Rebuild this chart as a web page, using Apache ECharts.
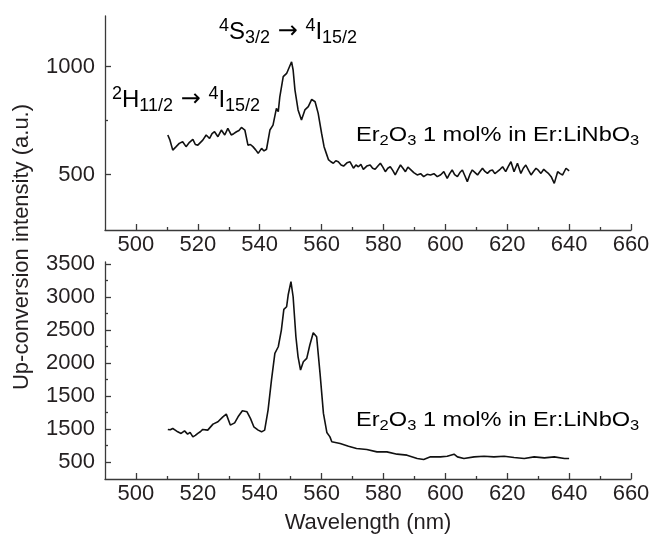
<!DOCTYPE html>
<html>
<head>
<meta charset="utf-8">
<script src="https://cdn.jsdelivr.net/npm/echarts@6/dist/echarts.min.js"></script>
<style>html,body{margin:0;padding:0;background:#fff}#c{width:660px;height:540px}</style>
</head>
<body>
<div id="c"></div>
<script>
// ---- data ----
const xTickValues = [500, 520, 540, 560, 580, 600, 620, 640, 660];
const xMinorTickValues = [510, 530, 550, 570, 590, 610, 630, 650];
const topYTickValues = [500, 1000];
const topYTickLabels = ["500", "1000"];
const topYMinorTickValues = [750];
const botYTickValues = [500, 1000, 1500, 2000, 2500, 3000, 3500];
const botYTickLabels = ["500", "1500", "1500", "2000", "2500", "3000", "3500"];
const botYMinorTickValues = [750, 1250, 1750, 2250, 2750, 3250];

const topX = [510.3,511.0,511.9,513.0,514.0,515.1,516.2,517.3,518.4,519.2,520.0,521.6,522.7,523.8,524.6,525.4,526.5,527.6,528.7,529.7,530.8,531.6,532.5,533.3,534.1,535.2,536.2,537.0,537.8,538.7,539.5,540.6,541.4,542.2,543.3,544.3,545.4,546.0,546.5,547.6,548.7,549.2,550.3,550.8,551.4,552.4,553.5,554.6,555.7,556.8,557.9,558.9,560.0,560.8,561.5,562.2,563.0,563.8,564.6,565.4,566.3,567.1,568.2,569.2,570.3,571.1,571.9,572.7,573.5,574.6,575.7,576.5,577.3,578.2,579.0,579.8,580.6,581.4,582.2,583.0,583.8,584.7,585.5,586.3,587.1,587.9,588.7,589.8,590.9,592.0,593.0,594.1,595.2,596.3,597.4,598.5,599.5,600.6,601.4,602.2,603.0,603.9,604.7,605.5,606.3,607.1,607.9,608.7,609.6,610.4,611.2,612.0,612.8,613.6,614.4,615.2,616.0,616.8,617.7,618.5,619.5,620.4,621.2,622.2,623.3,624.4,625.2,626.0,626.9,627.7,628.5,629.3,630.1,630.9,631.8,632.6,633.4,634.2,635.2,636.3,637.1,637.9,639.0,640.0];
const topY = [684,660,614,630,645,653,630,650,664,640,637,660,684,668,690,699,676,707,684,715,684,690,699,705,719,707,637,640,630,615,599,622,610,618,707,730,807,792,861,954,969,962,1023,985,892,800,753,800,815,849,838,784,692,630,600,570,560,553,565,560,545,540,555,560,530,545,537,548,525,540,545,530,525,540,553,535,514,530,537,520,499,525,545,530,514,535,525,510,499,505,491,502,499,505,491,500,514,483,505,522,500,491,510,522,495,468,500,522,510,499,515,530,515,506,518,522,505,514,525,537,514,540,560,514,553,506,530,545,520,499,515,530,520,506,525,514,505,491,460,514,505,499,530,518];

const botX = [510.3,511.1,511.9,512.7,513.5,514.6,515.7,516.7,517.5,518.4,519.2,520.0,520.8,521.6,523.2,524.9,526.5,528.1,529.2,530.5,531.9,533.0,534.4,535.9,537.0,538.1,539.5,540.6,541.6,542.7,543.8,544.9,546.0,546.5,547.0,547.8,548.7,549.2,550.1,550.8,551.7,552.4,553.2,554.1,555.2,556.2,557.3,558.4,559.5,560.6,561.7,562.7,563.3,566.0,568.7,571.3,574.6,577.9,581.1,584.4,587.6,590.9,593.0,595.2,598.4,600.6,602.8,603.9,606.0,609.3,612.5,615.7,619.0,622.2,625.5,628.7,632.0,635.2,638.5,640.0];
const botY = [995,990,1010,985,959,935,974,924,950,883,905,935,960,995,985,1076,1111,1186,1227,1061,1095,1186,1277,1262,1162,1035,985,959,985,1288,1742,2147,2247,2270,2500,2813,2853,3030,3232,3004,2398,2095,1894,2020,2071,2273,2459,2398,1844,1238,950,883,808,783,742,707,692,656,656,621,606,556,541,580,580,590,621,580,556,580,590,580,590,570,556,580,565,580,556,556];

const xAxisTitle = "Wavelength (nm)";
const yAxisTitle = "Up-conversion intensity (a.u.)";

// ---- styling ----
const FONT = '"Liberation Sans", Arial, Helvetica, sans-serif';
const ARROWFONT = '"DejaVu Sans", sans-serif';
const TXT = '#231f20';
const AX = '#3a3a3a';

function zip(xs, ys) { return xs.map((x, i) => [x, ys[i]]); }

function mainX(grid, extra) {
  return Object.assign({
    gridIndex: grid, type: 'value', position: 'bottom', min: 490, max: 660,
    axisLine: { show: true, lineStyle: { color: AX, width: 1.3 } },
    axisTick: { show: true, inside: true, length: 6, customValues: xTickValues, lineStyle: { color: AX, width: 1.3 } },
    axisLabel: { customValues: xTickValues, fontSize: 22, fontFamily: FONT, color: TXT, margin: 4 },
    splitLine: { show: false }
  }, extra || {});
}
function minorX(grid) {
  return {
    gridIndex: grid, type: 'value', position: 'bottom', min: 490, max: 660,
    axisLine: { show: false },
    axisTick: { show: true, inside: true, length: 3, customValues: xMinorTickValues, lineStyle: { color: AX, width: 1.3 } },
    axisLabel: { show: false }, splitLine: { show: false }
  };
}
function mainY(grid, min, max, vals, labels) {
  return {
    gridIndex: grid, type: 'value', position: 'left', min: min, max: max,
    axisLine: { show: true, lineStyle: { color: AX, width: 1.3 } },
    axisTick: { show: true, inside: true, length: 6, customValues: vals, lineStyle: { color: AX, width: 1.3 } },
    axisLabel: {
      customValues: vals, fontSize: 22, fontFamily: FONT, color: TXT, margin: 10,
      formatter: function (v) { const i = vals.indexOf(v); return i >= 0 ? labels[i] : ''; }
    },
    splitLine: { show: false }
  };
}
function minorY(grid, min, max, vals) {
  return {
    gridIndex: grid, type: 'value', position: 'left', min: min, max: max,
    axisLine: { show: false },
    axisTick: { show: true, inside: true, length: 3, customValues: vals, lineStyle: { color: AX, width: 1.3 } },
    axisLabel: { show: false }, splitLine: { show: false }
  };
}

const richBase = {
  m: { fontSize: 24, fontFamily: FONT, color: TXT, lineHeight: 30 },
  a: { fontSize: 24, fontFamily: ARROWFONT, color: TXT, lineHeight: 30 },
  sup: { fontSize: 18, fontFamily: FONT, color: TXT, lineHeight: 27, verticalAlign: 'top' },
  sub: { fontSize: 18, fontFamily: FONT, color: TXT, lineHeight: 13, verticalAlign: 'bottom' }
};
const richEr = {
  m: { fontSize: 20, fontFamily: FONT, color: TXT, lineHeight: 26 },
  sub: { fontSize: 14, fontFamily: FONT, color: TXT, lineHeight: 11, verticalAlign: 'bottom' }
};
const erText = '{m|Er}{sub|2}{m|O}{sub|3}{m| 1 mol% in Er:LiNbO}{sub|3}';

const chart = echarts.init(document.getElementById('c'), null, { renderer: 'canvas' });
chart.setOption({
  animation: false,
  backgroundColor: '#fff',
  grid: [
    { left: 105, right: 29, top: 16, height: 214 },
    { left: 105, right: 29, top: 262, height: 217 }
  ],
  xAxis: [
    mainX(0), minorX(0),
    mainX(1, { name: xAxisTitle, nameLocation: 'middle', nameGap: 33, nameTextStyle: { fontSize: 22, fontFamily: FONT, color: TXT } }),
    minorX(1)
  ],
  yAxis: [
    mainY(0, 244, 1235, topYTickValues, topYTickLabels), minorY(0, 244, 1235, topYMinorTickValues),
    mainY(1, 245, 3530, botYTickValues, botYTickLabels), minorY(1, 245, 3530, botYMinorTickValues)
  ],
  series: [
    { type: 'line', xAxisIndex: 0, yAxisIndex: 0, data: zip(topX, topY), showSymbol: false, symbol: 'none',
      lineStyle: { color: '#111', width: 1.6 } },
    { type: 'line', xAxisIndex: 2, yAxisIndex: 2, data: zip(botX, botY), showSymbol: false, symbol: 'none',
      lineStyle: { color: '#111', width: 1.6 } }
  ],
  graphic: [
    { type: 'text', x: 22, y: 247, rotation: Math.PI / 2,
      style: { text: yAxisTitle, font: '22px ' + FONT, fill: TXT, align: 'center', verticalAlign: 'middle' } },
    { type: 'text', x: 219, y: 17,
      style: { text: '{sup|4}{m|S}{sub|3/2}{a| → }{sup|4}{m|I}{sub|15/2}', rich: richBase } },
    { type: 'text', x: 112, y: 85,
      style: { text: '{sup|2}{m|H}{sub|11/2}{a| → }{sup|4}{m|I}{sub|15/2}', rich: richBase } },
    { type: 'text', x: 356, y: 122, scaleX: 1.18, style: { text: erText, rich: richEr } },
    { type: 'text', x: 356, y: 407, scaleX: 1.18, style: { text: erText, rich: richEr } }
  ]
});
</script>
</body>
</html>
